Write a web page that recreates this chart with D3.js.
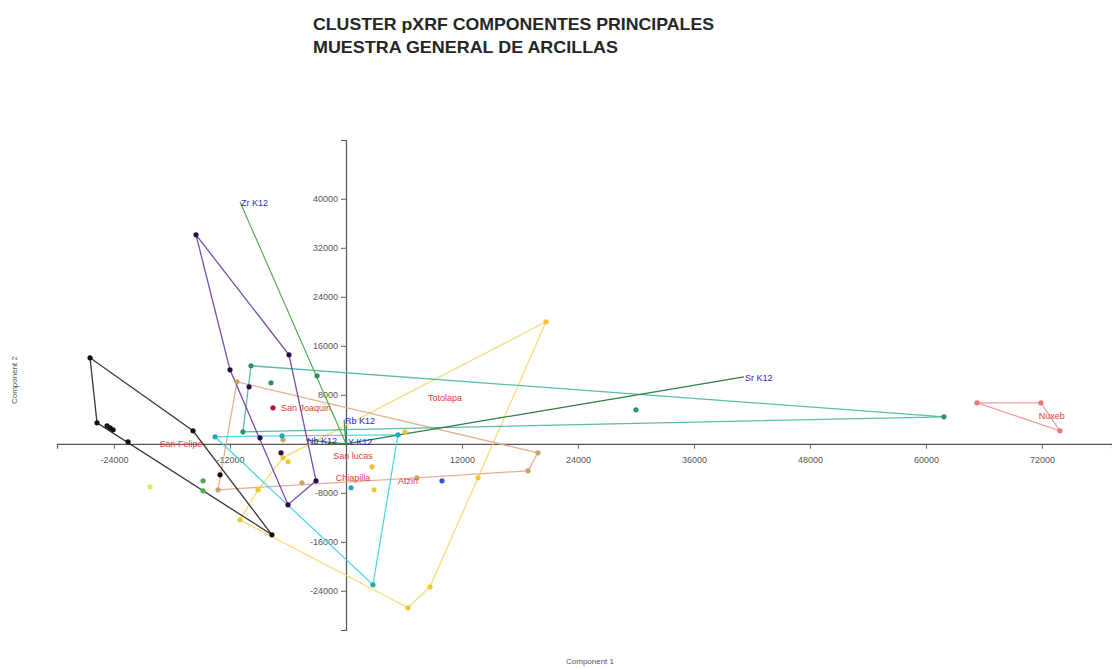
<!DOCTYPE html>
<html>
<head>
<meta charset="utf-8">
<script src="https://cdn.jsdelivr.net/npm/d3@7"></script>
<style>
  body { margin: 0; background: #fff; }
  svg { display: block; font-family: "Liberation Sans", Arial, sans-serif; }
</style>
</head>
<body>
<svg id="chart" width="1112" height="669"></svg>
<script>
// Tick values
const xTicks = [-24000, -12000, 12000, 24000, 36000, 48000, 60000, 72000];
const yTicks = [40000, 32000, 24000, 16000, 8000, -8000, -16000, -24000];

// Scores per cluster (Component 1, Component 2)
const blackScores = [[-26480, 14040], [-25760, 3430], [-24720, 2940], [-24410, 2610], [-24100, 2290],
  [-22550, 330], [-15830, 2120], [-13030, -5060], [-7660, -14860]];
const purpleScores = [[-15520, 34120], [-5900, 14530], [-12000, 12080], [-10030, 9310], [-8900, 980],
  [-6720, -1470], [-3100, -6040], [-6000, -9960]];
const tealScores = [[-9830, 12740], [-7760, 9960], [-3000, 11100], [61860, 4410], [30000, 5550], [-10660, 1960]];
const cyanScores = [[-13550, 1140], [5380, 1470], [2790, -23020], [520, -7180], [-6620, 1310]];
const yellowScores = [[20690, 19920], [8690, -23350], [6410, -26780], [-10970, -12410], [-6520, -2290],
  [13660, -5550], [2690, -3760], [2900, -7510], [6100, 1960], [-9100, -7510], [-6000, -2940]];
const tanScores = [[-11280, 10120], [19860, -1470], [18830, -4410], [-13240, -7510], [-4550, -6370],
  [-6520, 650], [7340, -5550]];
const redScores = [[65280, 6690], [71900, 6690], [73860, 2120]];
const greenScores = [[-14790, -6040], [-14790, -7670]];
const paleScores = [[-20280, -7020]];
const maroonScores = [[-7550, 5880]];
const blueScores = [[9930, -6040]];

// Biplot loadings (end points) and site names
const loadingNames = ["Zr K12", "Sr K12", "Rb K12", "Nb K12", "Y K12"];
const loadingX = [-10970, 41170, -200, -4140, 100];
const loadingY = [39510, 10940, 3900, 650, 500];
const siteNames = ["San Joaquin", "San Felipe", "Totolapa", "San lucas", "Chiapilla", "Atzin", "Nuxeb"];
const siteX = [-4140, -17070, 10240, 720, 720, 6410, 73030];
const siteY = [5880, 0, 7510, -1960, -5550, -6040, 4570];

const groups = [
  {scores: yellowScores, hull: "#f6d86a", dot: "#efc52a"},
  {scores: tanScores, hull: "#e0a98a", dot: "#c9a468"},
  {scores: cyanScores, hull: "#3fd3e0", dot: "#22aabb"},
  {scores: tealScores, hull: "#45b5a0", dot: "#2f8f6a"},
  {scores: blackScores, hull: "#222222", dot: "#111111"},
  {scores: purpleScores, hull: "#6a3aa0", dot: "#2a0c45"},
  {scores: redScores, hull: "#f19494", dot: "#e07777"},
  {scores: greenScores, hull: "#66bb66", dot: "#4fa84f"},
  {scores: paleScores, hull: "#eaea70", dot: "#e6e35a"},
  {scores: maroonScores, hull: "#a01030", dot: "#b0103a"},
  {scores: blueScores, hull: "#3355cc", dot: "#3355cc"}
];
const loadingColors = ["#56ac56", "#2f7d3f", "#3b8a4a", "#3b8a4a", "#3b8a4a"];

const svg = d3.select("#chart");

const x = d3.scaleLinear().domain([-29900, 79250]).range([57, 1112]);
const y = d3.scaleLinear().domain([-30400, 49600]).range([630, 140]);

// Title
const title = svg.append("g").attr("font-weight", "bold").attr("fill", "#262626").attr("font-size", 16.5);
title.append("text").attr("x", 313).attr("y", 30)
  .attr("textLength", 401).attr("lengthAdjust", "spacingAndGlyphs")
  .text("CLUSTER pXRF COMPONENTES PRINCIPALES");
title.append("text").attr("x", 313).attr("y", 53)
  .attr("textLength", 305).attr("lengthAdjust", "spacingAndGlyphs")
  .text("MUESTRA GENERAL DE ARCILLAS");

// Axes crossing at origin
const fmt = d => String(d);
const xAxis = d3.axisBottom(x).tickValues(xTicks).tickSize(5).tickFormat(fmt);
const yAxis = d3.axisLeft(y).tickValues(yTicks).tickSize(5).tickFormat(fmt);

const gx = svg.append("g").attr("transform", `translate(0,${y(0)})`).call(xAxis);
const gy = svg.append("g").attr("transform", `translate(${x(0)},0)`).call(yAxis);

[gx, gy].forEach(g => {
  g.select(".domain").attr("stroke", "#555").attr("stroke-width", 1.2);
  g.selectAll(".tick line").attr("stroke", "#666");
  g.selectAll(".tick text").attr("fill", "#555").attr("font-size", 9).attr("font-family", "Liberation Sans, Arial");
});
gx.selectAll(".tick text").attr("dy", "1.3em");

svg.append("text").attr("x", 590).attr("y", 664).attr("text-anchor", "middle")
  .attr("font-size", 8).attr("fill", "#555").text("Component 1");
svg.append("text").attr("transform", "translate(17,380) rotate(-90)").attr("text-anchor", "middle")
  .attr("font-size", 8).attr("fill", "#555").text("Component 2");

// Convex hulls
const hullLayer = svg.append("g");
groups.forEach(gr => {
  if (gr.scores.length < 3) return;
  const hull = d3.polygonHull(gr.scores.map(d => [x(d[0]), y(d[1])]));
  hullLayer.append("path")
    .attr("d", "M" + hull.join("L") + "Z")
    .attr("fill", "none")
    .attr("stroke", gr.hull)
    .attr("stroke-width", 1.3)
    .attr("stroke-opacity", 0.9);
});

// Loading vectors
const vecLayer = svg.append("g");
loadingNames.forEach((name, i) => {
  vecLayer.append("line")
    .attr("x1", x(0)).attr("y1", y(0))
    .attr("x2", x(loadingX[i])).attr("y2", y(loadingY[i]))
    .attr("stroke", loadingColors[i]).attr("stroke-width", 1.2);
  vecLayer.append("text")
    .attr("x", x(loadingX[i]) + 1).attr("y", y(loadingY[i]) + 1)
    .attr("dy", "0.35em")
    .attr("font-size", 9).attr("fill", "#2a2ad0")
    .text(name);
});

// Points
const dotLayer = svg.append("g");
groups.forEach(gr => {
  dotLayer.selectAll(null).data(gr.scores).join("circle")
    .attr("cx", d => x(d[0])).attr("cy", d => y(d[1]))
    .attr("r", 2.6)
    .attr("fill", gr.dot);
});

// Site labels
siteNames.forEach((name, i) => {
  svg.append("text")
    .attr("x", x(siteX[i])).attr("y", y(siteY[i]))
    .attr("dy", "0.35em").attr("text-anchor", "middle")
    .attr("font-size", 9).attr("fill", "#e23a3a")
    .text(name);
});
</script>
</body>
</html>
